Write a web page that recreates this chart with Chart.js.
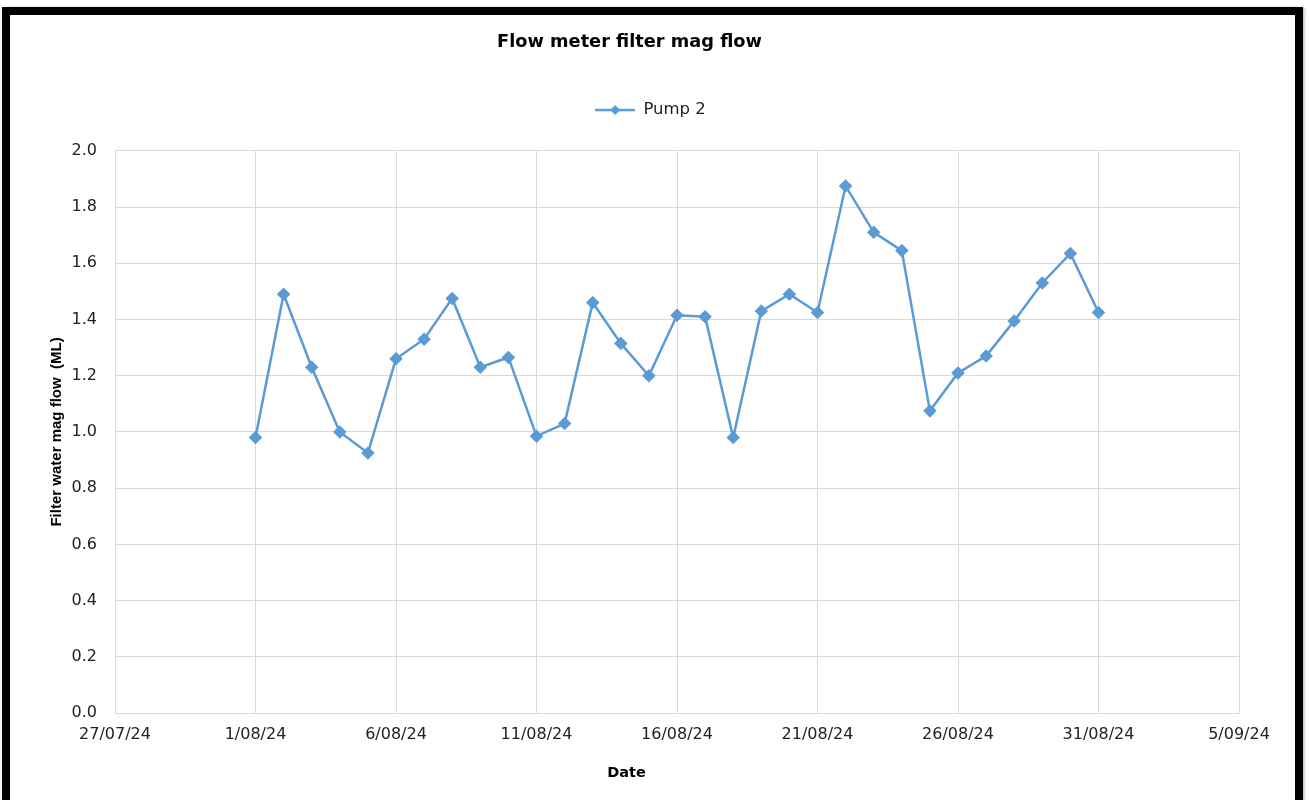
<!DOCTYPE html>
<html>
<head>
<meta charset="utf-8">
<script src="https://cdn.jsdelivr.net/npm/chart.js@4"></script>
<style>
  html, body { margin: 0; padding: 0; background: #fff; overflow: hidden; }
  #wrap { position: relative; width: 1309px; height: 800px; }
  #chartCanvas { position: absolute; left: 0; top: 0; }
  #frame {
    position: absolute; left: 2px; top: 7px; width: 1285px; height: 820px;
    border: 8px solid #000; box-shadow: 1px 1px 3px rgba(0,0,0,0.35);
    pointer-events: none;
  }
</style>
</head>
<body>
<div id="wrap">
  <canvas id="chartCanvas" width="1309" height="800"></canvas>
  <div id="frame"></div>
</div>
<script>
// reading dates (Aug 2024) and Pump 2 flow in ML
const dates = ['2024-08-01','2024-08-02','2024-08-03','2024-08-04','2024-08-05','2024-08-06','2024-08-07','2024-08-08',
  '2024-08-09','2024-08-10','2024-08-11','2024-08-12','2024-08-13','2024-08-14','2024-08-15','2024-08-16',
  '2024-08-17','2024-08-18','2024-08-19','2024-08-20','2024-08-21','2024-08-22','2024-08-23','2024-08-24',
  '2024-08-25','2024-08-26','2024-08-27','2024-08-28','2024-08-29','2024-08-30','2024-08-31'];
const pump2 = [0.98, 1.49, 1.23, 1.00, 0.925, 1.26, 1.33, 1.475,
  1.23, 1.265, 0.985, 1.03, 1.46, 1.315, 1.20, 1.415,
  1.41, 0.98, 1.43, 1.49, 1.425, 1.875, 1.71, 1.645,
  1.075, 1.21, 1.27, 1.395, 1.53, 1.635, 1.425];

const axisStart = '2024-07-27';
const axisEnd = '2024-09-05';
const xStepDays = 5;
const yTicks = [0.0, 0.2, 0.4, 0.6, 0.8, 1.0, 1.2, 1.4, 1.6, 1.8, 2.0];

const DAY = 86400000;
const t0 = Date.parse(axisStart + 'T00:00:00Z');
const dayOf = s => Math.round((Date.parse(s + 'T00:00:00Z') - t0) / DAY);
const fmtDate = v => {
    const d = new Date(t0 + v * DAY);
    const mm = String(d.getUTCMonth() + 1).padStart(2, '0');
    const yy = String(d.getUTCFullYear()).slice(2);
    return `${d.getUTCDate()}/${mm}/${yy}`;
};

const BLUE = '#5b9bd5';
const GRID = '#d9d9d9';

// legend marker: short line with a diamond in the middle
const marker = document.createElement('canvas');
marker.width = 40; marker.height = 12;
const mctx = marker.getContext('2d');
mctx.strokeStyle = BLUE; mctx.lineWidth = 2.5;
mctx.beginPath(); mctx.moveTo(0, 6); mctx.lineTo(40, 6); mctx.stroke();
mctx.fillStyle = BLUE;
mctx.beginPath(); mctx.moveTo(20, 1); mctx.lineTo(25, 6); mctx.lineTo(20, 11); mctx.lineTo(15, 6); mctx.closePath(); mctx.fill();

// small layout tweaks: gap under the legend, and nudge a few boxes sideways
const LEGEND_GAP = 22.5;
const layoutTweaks = {
    id: 'layoutTweaks',
    beforeLayout(chart) {
        const lg = chart.legend;
        if (lg && !lg._tweaked) {
            const fit = lg.fit.bind(lg);
            lg.fit = function () { fit(); this.height += LEGEND_GAP; };
            lg._tweaked = true;
        }
    },
    afterLayout(chart) {
        const move = (box, dx) => { if (box) { box.left += dx; box.right += dx; } };
        move(chart.legend, 26);
        move(chart.titleBlock, 5);
        move(chart.boxes.find(b => b !== chart.titleBlock && b.options && b.options.text === 'Date'), 2);
    }
};

const ctx = document.getElementById('chartCanvas').getContext('2d');

const chart = new Chart(ctx, {
    type: 'line',
    data: {
        datasets: [{
            label: 'Pump 2',
            data: dates.map((d, i) => ({ x: dayOf(d), y: pump2[i] })),
            borderColor: BLUE,
            backgroundColor: BLUE,
            borderWidth: 2.5,
            pointStyle: 'rectRot',
            pointRadius: 5,
            pointHoverRadius: 5,
            tension: 0
        }]
    },
    plugins: [layoutTweaks],
    options: {
        responsive: false,
        animation: false,
        events: [],
        layout: { padding: { left: 10, right: 70, top: 15, bottom: 0 } },
        plugins: {
            title: {
                display: true,
                text: 'Flow meter filter mag flow',
                color: '#000',
                font: { family: 'DejaVu Sans', size: 17.75, weight: 'bold' },
                padding: { top: 17, bottom: 37.5 }
            },
            subtitle: {
                // x axis title, centred like the chart title
                display: true,
                text: 'Date',
                position: 'bottom',
                color: '#000',
                font: { family: 'DejaVu Sans', size: 14.5, weight: 'bold' },
                padding: { top: 0, bottom: 18 }
            },
            legend: {
                labels: {
                    usePointStyle: true,
                    pointStyle: marker,
                    pointStyleWidth: 40,
                    color: '#222',
                    padding: 11,
                    font: { family: 'DejaVu Sans', size: 16.5 }
                }
            },
            tooltip: { enabled: false }
        },
        scales: {
            x: {
                type: 'linear',
                min: 0,
                max: dayOf(axisEnd),
                afterFit: s => { s.height = 51.5; },
                grid: { color: GRID, drawTicks: false },
                border: { color: GRID },
                ticks: {
                    stepSize: xStepDays,
                    padding: 12,
                    color: '#222',
                    maxRotation: 0,
                    font: { family: 'DejaVu Sans', size: 16 },
                    callback: v => fmtDate(v)
                }
            },
            y: {
                min: yTicks[0],
                max: yTicks[yTicks.length - 1],
                afterFit: s => { s.width = 105; },
                afterBuildTicks: s => { s.ticks = yTicks.map(v => ({ value: v })); },
                grid: { color: GRID, drawTicks: false },
                border: { color: GRID },
                ticks: {
                    padding: 18,
                    color: '#222',
                    font: { family: 'DejaVu Sans', size: 16 },
                    callback: v => v.toFixed(1)
                },
                title: {
                    display: true,
                    text: 'Filter water mag flow  (ML)',
                    color: '#000',
                    font: { family: 'Liberation Sans', size: 15, weight: 'bold' },
                    padding: { top: 38, bottom: 0 }
                }
            }
        }
    }
});
</script>
</body>
</html>
